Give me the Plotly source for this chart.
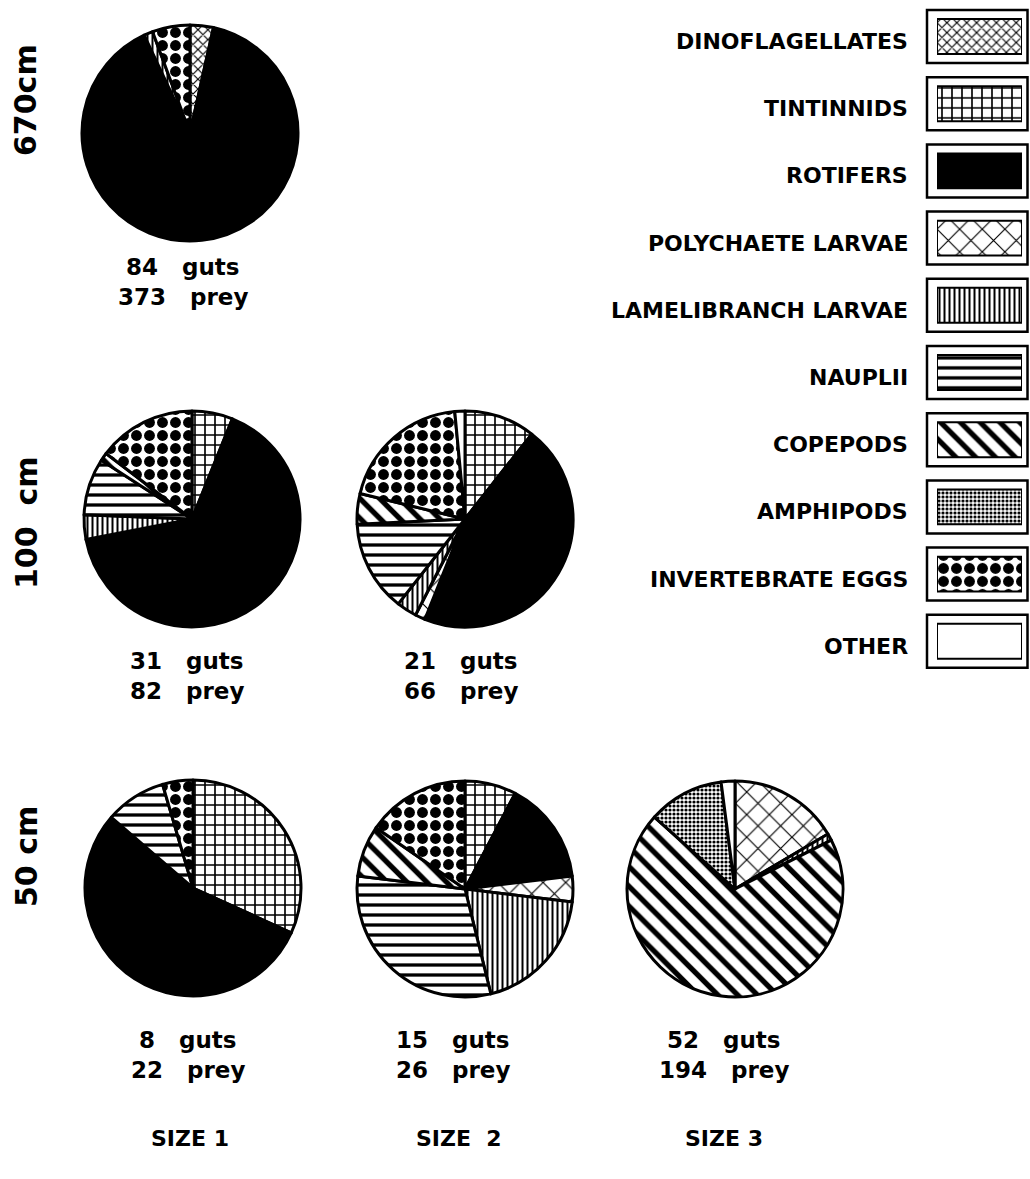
import plotly.graph_objects as go

W, H = 1030, 1179

# ---------------- data ----------------
prey_types = ["DINOFLAGELLATES", "TINTINNIDS", "ROTIFERS", "POLYCHAETE LARVAE",
              "LAMELIBRANCH LARVAE", "NAUPLII", "COPEPODS", "AMPHIPODS",
              "INVERTEBRATE EGGS", "OTHER"]

# prey counts per gut-content pie (order = prey_types)
depth670_size1 = [13, 0, 334, 0, 5, 0, 0, 0, 21, 0]
depth100_size1 = [0, 5, 54, 0, 3, 7, 1, 0, 12, 0]
depth100_size2 = [0, 7, 30, 1, 2, 9, 3, 0, 13, 1]
depth50_size1 = [0, 7, 12, 0, 0, 2, 0, 0, 1, 0]
depth50_size2 = [0, 2, 4, 1, 5, 8, 2, 0, 4, 0]
depth50_size3 = [0, 0, 0, 32, 2, 0, 134, 22, 0, 4]

guts = {"670_1": 84, "100_1": 31, "100_2": 21, "50_1": 8, "50_2": 15, "50_3": 52}
prey = {"670_1": 373, "100_1": 82, "100_2": 66, "50_1": 22, "50_2": 26, "50_3": 194}

depth_labels = ["670cm", "100  cm", "50 cm"]
size_labels = ["SIZE 1", "SIZE  2", "SIZE 3"]

# ---------------- styles ----------------
pat_shape = ["x", "+", "", "x", "|", "-", "\\", ".", ".", ""]
pat_size = [7, 10, 8, 16, 5, 10, 14, 4, 13, 8]
pat_solid = [0.3, 0.3, 0.5, 0.14, 0.4, 0.33, 0.38, 0.5, 0.55, 0.5]
fill_col = ["white", "white", "black", "white", "white", "white", "white", "white", "white", "white"]

FONT = "DejaVu Sans, Liberation Sans, Arial, sans-serif"

fig = go.Figure()


def px_dom(cx, cy, r):
    return dict(x=[(cx - r) / W, (cx + r) / W], y=[1 - (cy + r) / H, 1 - (cy - r) / H])


# key, values, centre x, centre y, radius, caption y (guts), caption x
pies = [
    ("670_1", depth670_size1, 190, 133, 108, 268, 183),
    ("100_1", depth100_size1, 192, 519, 108, 662, 187),
    ("100_2", depth100_size2, 465, 519, 108, 662, 461),
    ("50_1", depth50_size1, 193, 888, 108, 1041, 188),
    ("50_2", depth50_size2, 465, 889, 108, 1041, 453),
    ("50_3", depth50_size3, 735, 889, 108, 1041, 724),
]

for key, vals, cx, cy, r, ty, tx in pies:
    idx = [i for i, v in enumerate(vals) if v > 0]
    fig.add_trace(go.Pie(
        labels=[prey_types[i] for i in idx],
        values=[vals[i] for i in idx],
        sort=False, direction="clockwise", rotation=0,
        textinfo="none", hoverinfo="label+value+percent",
        showlegend=False,
        domain=px_dom(cx, cy, r),
        marker=dict(
            colors=[fill_col[i] for i in idx],
            line=dict(color="black", width=3),
            pattern=dict(
                shape=[pat_shape[i] for i in idx],
                size=[pat_size[i] for i in idx],
                solidity=[pat_solid[i] for i in idx],
                fgcolor="black",
                bgcolor=[fill_col[i] for i in idx],
                fillmode="replace",
            ),
        ),
    ))
    fig.add_annotation(x=tx / W, y=1 - (ty - 1) / H, xref="paper", yref="paper",
                       text=f"<b>{guts[key]}   guts</b>", showarrow=False,
                       xanchor="center", yanchor="middle",
                       font=dict(family=FONT, size=23, color="black"))
    fig.add_annotation(x=tx / W, y=1 - (ty + 29) / H, xref="paper", yref="paper",
                       text=f"<b>{prey[key]}   prey</b>", showarrow=False,
                       xanchor="center", yanchor="middle",
                       font=dict(family=FONT, size=23, color="black"))

# ---------------- legend (bars for patterned swatches) ----------------
row0, step = 36.5, 67.2
n = len(prey_types)
ytop = row0 - step / 2
ybot = row0 + step * (n - 1) + step / 2
for i, name in enumerate(prey_types):
    fig.add_trace(go.Bar(
        y=[i], x=[1], orientation="h",
        width=0.52, showlegend=False, hoverinfo="skip",
        xaxis="x", yaxis="y",
        marker=dict(
            color=fill_col[i],
            line=dict(color="black", width=2),
            pattern=dict(shape=pat_shape[i], size=pat_size[i], solidity=pat_solid[i],
                         fgcolor="black", bgcolor=fill_col[i], fillmode="replace"),
        ),
    ))

fig.update_layout(
    barmode="overlay",
    xaxis=dict(domain=[937 / W, 1022 / W], range=[0, 1], visible=False, fixedrange=True),
    yaxis=dict(domain=[1 - ybot / H, 1 - ytop / H], range=[n - 0.5, -0.5],
               visible=False, fixedrange=True),
)

for i, name in enumerate(prey_types):
    fig.add_shape(type="rect", xref="paper", yref="y",
                  x0=927 / W, x1=1027.5 / W, y0=i - 0.394, y1=i + 0.394,
                  line=dict(color="black", width=2.5), fillcolor="rgba(0,0,0,0)")
    fig.add_annotation(x=910 / W, y=1 - (row0 + 5 + step * i) / H, xref="paper", yref="paper",
                       text=f"<b>{name}</b>", showarrow=False,
                       xanchor="right", yanchor="middle",
                       font=dict(family=FONT, size=22, color="black"))

# ---------------- depth labels & size labels ----------------
for lab, yc in zip(depth_labels, [100, 523, 857]):
    fig.add_annotation(x=26 / W, y=1 - yc / H, xref="paper", yref="paper",
                       text=f"<b>{lab}</b>", showarrow=False, textangle=-90,
                       xanchor="center", yanchor="middle",
                       font=dict(family=FONT, size=30, color="black"))

for lab, xc in zip(size_labels, [190, 459, 724]):
    fig.add_annotation(x=xc / W, y=1 - 1138 / H, xref="paper", yref="paper",
                       text=f"<b>{lab}</b>", showarrow=False,
                       xanchor="center", yanchor="middle",
                       font=dict(family=FONT, size=22, color="black"))

fig.update_layout(
    width=W, height=H,
    margin=dict(l=0, r=0, t=0, b=0),
    paper_bgcolor="white", plot_bgcolor="white",
    showlegend=False,
)

fig.write_html("out.html", config={"displayModeBar": False},
               post_script="document.body.style.margin='0';")
